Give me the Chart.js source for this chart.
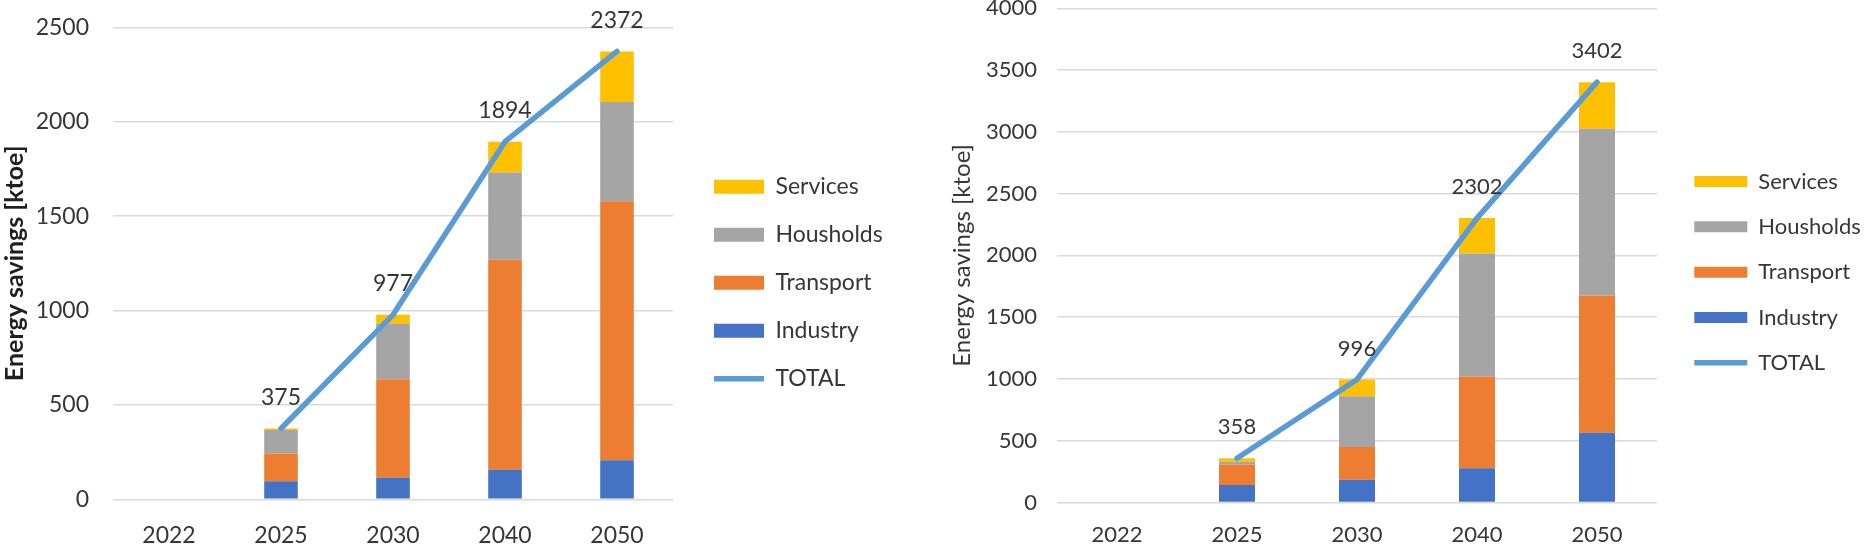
<!DOCTYPE html>
<html>
<head>
<meta charset="utf-8">
<script src="https://cdn.jsdelivr.net/npm/chart.js@4.4.1/dist/chart.umd.min.js"></script>
<style>
html, body { margin: 0; padding: 0; background: #ffffff; }
#wrap { position: relative; width: 1864px; height: 544px; overflow: hidden; background: #ffffff; }
.box { position: absolute; top: 0; height: 544px; }
#boxL { left: 0; width: 890px; }
#boxR { left: 890px; width: 974px; }
</style>
</head>
<body>
<div id="wrap">
  <div class="box" id="boxL"><canvas id="chartL"></canvas></div>
  <div class="box" id="boxR"><canvas id="chartR"></canvas></div>
</div>
<script>
// ---------- DATA ----------
const categories = ['2022', '2025', '2030', '2040', '2050'];
const legendOrder = ['Services', 'Housholds', 'Transport', 'Industry', 'TOTAL'];
const axisTitle = 'Energy savings [ktoe]';

// Left chart
const leftIndustry   = [null,   95,  114,  156,  207];
const leftTransport  = [null,  147,  522, 1113, 1372];
const leftHouseholds = [null,  125,  294,  462,  525];
const leftServices   = [null,    8,   47,  163,  268];
const leftTotal      = [null,  375,  977, 1894, 2372];
const leftYTicks     = [0, 500, 1000, 1500, 2000, 2500];

// Right chart
const rightIndustry   = [null,  141,  184,  278,  565];
const rightTransport  = [null,  167,  265,  741, 1111];
const rightHouseholds = [null,   22,  410,  997, 1350];
const rightServices   = [null,   28,  137,  286,  376];
const rightTotal      = [null,  358,  996, 2302, 3402];
const rightYTicks     = [0, 500, 1000, 1500, 2000, 2500, 3000, 3500, 4000];

// ---------- STYLE ----------
const COLORS = {
  Industry: '#4472C4',
  Transport: '#ED7D31',
  Housholds: '#A5A5A5',
  Services: '#FFC000',
  TOTAL: '#5B9BD5'
};
const FONT = 'Lato, "Open Sans", "Noto Sans", sans-serif';
const TEXT = '#363636';

const totalLabels = {
  id: 'totalLabels',
  afterDatasetsDraw(chart, args, o) {
    const idx = chart.data.datasets.findIndex(d => d.type === 'line');
    if (idx < 0) return;
    const meta = chart.getDatasetMeta(idx);
    const ds = chart.data.datasets[idx];
    const ctx = chart.ctx;
    ctx.save();
    ctx.font = o.size + 'px ' + FONT;
    ctx.fillStyle = o.color;
    ctx.textAlign = 'center';
    ctx.textBaseline = 'middle';
    meta.data.forEach((pt, i) => {
      const v = ds.data[i];
      if (v === null || v === undefined) return;
      ctx.fillText(String(v), pt.x, pt.y - o.offset);
    });
    ctx.restore();
  }
};

const legendShift = {
  id: 'legendShift',
  afterLayout(chart, args, o) {
    const l = chart.legend;
    if (!l) return;
    l.left += o.dx;
    l.right = chart.width;
    l.width = l.right - l.left;
    l.top += o.dy; l.bottom += o.dy;
  }
};

function makeChart(id, s) {
  const datasets = [
    { label: 'Industry',  data: s.industry,   backgroundColor: COLORS.Industry,  stack: 'bars' },
    { label: 'Transport', data: s.transport,  backgroundColor: COLORS.Transport, stack: 'bars' },
    { label: 'Housholds', data: s.households, backgroundColor: COLORS.Housholds, stack: 'bars' },
    { label: 'Services',  data: s.services,   backgroundColor: COLORS.Services,  stack: 'bars' },
    {
      type: 'line', label: 'TOTAL', data: s.total, stack: 'line', order: -1,
      borderColor: COLORS.TOTAL, backgroundColor: COLORS.TOTAL,
      borderWidth: 5.5, pointRadius: 0, pointHoverRadius: 0, tension: 0,
      borderCapStyle: 'round', borderJoinStyle: 'round'
    }
  ];
  datasets.forEach(d => { if (d.type !== 'line') { d.type = 'bar'; d.barPercentage = 0.3; d.categoryPercentage = 1.0; d.borderWidth = 0; } });

  return new Chart(document.getElementById(id), {
    data: { labels: categories, datasets },
    plugins: [totalLabels, legendShift],
    options: {
      responsive: true,
      maintainAspectRatio: false,
      animation: false,
      events: [],
      layout: { padding: { left: 0, right: s.padRight, top: s.padTop, bottom: 0 } },
      scales: {
        x: {
          stacked: true,
          grid: { display: false, drawTicks: false },
          border: { display: false },
          ticks: { color: TEXT, font: { family: FONT, size: s.tickSize }, padding: s.xPad, maxRotation: 0 },
          afterFit(scale) { scale.height = s.xHeight; scale.paddingLeft = 0; scale.paddingRight = 0; }
        },
        y: {
          stacked: true,
          min: 0,
          max: s.yTicks[s.yTicks.length - 1],
          afterBuildTicks(scale) { scale.ticks = s.yTicks.map(v => ({ value: v })); },
          grid: { color: '#d9d9d9', lineWidth: 1.5, drawTicks: false },
          border: { display: false },
          ticks: {
            color: TEXT, font: { family: FONT, size: s.tickSize }, padding: s.yPad,
            callback: v => String(v)
          },
          title: {
            display: true, text: axisTitle, color: s.titleColor,
            font: { family: FONT, size: s.titleSize, weight: s.titleWeight },
            padding: { top: s.titlePad, bottom: 0 }
          },
          afterFit(scale) { scale.width = s.yWidth; scale.paddingTop = 0; scale.paddingBottom = 0; }
        }
      },
      plugins: {
        tooltip: { enabled: false },
        totalLabels: { size: s.tickSize, color: TEXT, offset: 31 },
        legendShift: { dx: s.legendDx, dy: s.legendDy },
        legend: {
          position: 'right',
          maxWidth: 140,
          labels: {
            usePointStyle: true,
            pointStyleWidth: s.boxW,
            boxHeight: s.boxH,
            padding: s.legendPad,
            color: TEXT,
            font: { family: FONT, size: s.legendSize },
            generateLabels(chart) {
              const items = Chart.defaults.plugins.legend.labels.generateLabels(chart);
              items.forEach(it => {
                const ds = chart.data.datasets[it.datasetIndex];
                it.pointStyle = ds.type === 'line' ? 'line' : 'rect';
              });
              return items;
            },
            sort: (a, b) => legendOrder.indexOf(a.text) - legendOrder.indexOf(b.text)
          }
        }
      }
    }
  });
}

makeChart('chartL', {
  industry: leftIndustry, transport: leftTransport, households: leftHouseholds,
  services: leftServices, total: leftTotal, yTicks: leftYTicks,
  padTop: 27.3, padRight: 77, xHeight: 44.7, xPad: 22, yWidth: 113, yPad: 24,
  tickSize: 23, titleSize: 25, titleWeight: 'bold', titleColor: '#1f1f1f', titlePad: 0,
  boxW: 50, boxH: 14, legendPad: 25, legendSize: 23, legendDx: 16, legendDy: -3
});

makeChart('chartR', {
  industry: rightIndustry, transport: rightTransport, households: rightHouseholds,
  services: rightServices, total: rightTotal, yTicks: rightYTicks,
  padTop: 8.3, padRight: 67, xHeight: 41.5, xPad: 19, yWidth: 167, yPad: 20,
  tickSize: 22, titleSize: 24, titleWeight: 'normal', titleColor: TEXT, titlePad: 57.6,
  boxW: 53, boxH: 11, legendPad: 23.3, legendSize: 22, legendDx: 14, legendDy: -4
});
</script>
</body>
</html>
